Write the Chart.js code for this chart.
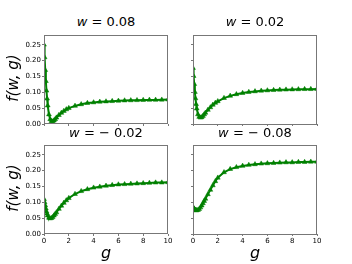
<!DOCTYPE html>
<html>
<head>
<meta charset="utf-8">
<script src="https://cdn.jsdelivr.net/npm/chart.js@4/dist/chart.umd.min.js"></script>
<style>
  body { margin: 0; background: #fff; }
  #wrap { position: relative; width: 352px; height: 264px; overflow: hidden; font-family: "DejaVu Sans", sans-serif; }
  canvas { position: absolute; }
  .title { position: absolute; font-size: 13px; color: #000; white-space: nowrap; transform: translate(-50%, -50%); }
  .ylab { position: absolute; font-size: 15px; font-style: italic; white-space: nowrap; transform: translate(-50%, -50%) rotate(-90deg); }
  .xlab { position: absolute; font-size: 16px; font-style: italic; transform: translate(-50%, -50%); }
</style>
</head>
<body>
<div id="wrap">
  <canvas id="c0" width="164" height="108" style="left:10px;top:30px"></canvas>
  <canvas id="c1" width="164" height="108" style="left:159px;top:30px"></canvas>
  <canvas id="c2" width="164" height="108" style="left:10px;top:140px"></canvas>
  <canvas id="c3" width="164" height="108" style="left:159px;top:140px"></canvas>

  <div class="title" style="left:106px;top:21px"><i>w</i> = 0.08</div>
  <div class="title" style="left:255px;top:21px"><i>w</i> = 0.02</div>
  <div class="title" style="left:106px;top:132px"><i>w</i> = − 0.02</div>
  <div class="title" style="left:255px;top:132px"><i>w</i> = − 0.08</div>

  <div class="ylab" style="left:13px;top:78px">f(w, g)</div>
  <div class="ylab" style="left:13px;top:188px">f(w, g)</div>
  <div class="xlab" style="left:106px;top:252px">g</div>
  <div class="xlab" style="left:255px;top:252px">g</div>
</div>

<script>
// sample points along g
const G_VALUES = [0, 0.05, 0.1, 0.15, 0.2, 0.25, 0.3, 0.4, 0.5, 0.6, 0.7, 0.8, 0.9, 1.0,
  1.2, 1.4, 1.6, 1.8, 2.0, 2.5, 3, 3.5, 4, 4.5, 5, 5.5, 6, 6.5, 7, 7.5, 8, 8.5, 9, 9.5, 10];

// f(w, g) for each w
const F_W_P008 = [0.25, 0.21, 0.17, 0.135, 0.105, 0.08, 0.058, 0.03, 0.015, 0.009, 0.008, 0.011, 0.015, 0.02,
  0.028, 0.035, 0.041, 0.046, 0.05, 0.057, 0.062, 0.066, 0.068, 0.07, 0.071, 0.072, 0.073, 0.074, 0.0745, 0.075, 0.0755, 0.076, 0.076, 0.0765, 0.077];
const F_W_P002 = [0.175, 0.15, 0.125, 0.1, 0.08, 0.062, 0.048, 0.03, 0.022, 0.02, 0.021, 0.025, 0.03, 0.035,
  0.044, 0.052, 0.06, 0.066, 0.071, 0.081, 0.088, 0.093, 0.097, 0.1, 0.102, 0.104, 0.105, 0.106, 0.107, 0.1075, 0.108, 0.1085, 0.109, 0.109, 0.1095];
const F_W_N002 = [0.11, 0.1, 0.09, 0.08, 0.071, 0.064, 0.058, 0.051, 0.049, 0.05, 0.053, 0.058, 0.063, 0.068,
  0.079, 0.089, 0.098, 0.106, 0.113, 0.126, 0.135, 0.141, 0.146, 0.149, 0.152, 0.154, 0.156, 0.157, 0.158, 0.159, 0.16, 0.161, 0.162, 0.162, 0.163];
const F_W_N008 = [0.085, 0.081, 0.078, 0.076, 0.075, 0.074, 0.074, 0.075, 0.078, 0.083, 0.089, 0.096, 0.103, 0.11,
  0.124, 0.138, 0.152, 0.165, 0.176, 0.193, 0.203, 0.209, 0.213, 0.216, 0.218, 0.22, 0.221, 0.222, 0.223, 0.224, 0.224, 0.225, 0.225, 0.226, 0.226];

const X_TICKS = [0, 2, 4, 6, 8, 10];
const Y_TICKS = [0, 0.05, 0.1, 0.15, 0.2, 0.25];

const LINE_COLOR = "#008000";
const SPINE_COLOR = "#777";

// full box around plot area
const framePlugin = {
  id: "frame",
  afterDraw(chart) {
    const a = chart.chartArea;
    const ctx = chart.ctx;
    ctx.save();
    ctx.strokeStyle = SPINE_COLOR;
    ctx.lineWidth = 1;
    ctx.strokeRect(Math.round(a.left) + 0.5, Math.round(a.top) + 0.5,
      Math.round(a.right - a.left) - 1, Math.round(a.bottom - a.top) - 1);
    ctx.restore();
  },
};

function makePanel(id, values, showX, showY) {
  const points = G_VALUES.map((g, i) => ({ x: g, y: values[i] }));
  const tickFont = { family: "DejaVu Sans", size: 7 };
  return new Chart(document.getElementById(id), {
    type: "scatter",
    data: {
      datasets: [{
        data: points,
        showLine: true,
        borderColor: LINE_COLOR,
        backgroundColor: LINE_COLOR,
        borderWidth: 2,
        pointStyle: "triangle",
        pointRadius: 2.8,
        pointBorderWidth: 0.5,
        tension: 0,
      }],
    },
    options: {
      responsive: false,
      animation: false,
      devicePixelRatio: 1,
      layout: { padding: { left: 0, top: 2, right: 6, bottom: 0 } },
      plugins: { legend: { display: false }, tooltip: { enabled: false } },
      scales: {
        x: {
          type: "linear", min: 0, max: 10,
          afterBuildTicks: (s) => { s.ticks = X_TICKS.map((v) => ({ value: v })); },
          afterFit: (s) => { s.height = 14; },
          grid: { display: true, drawOnChartArea: false, drawTicks: true, tickLength: 2, color: SPINE_COLOR },
          border: { display: false },
          ticks: { display: showX, font: tickFont, color: "#000", padding: 1, maxRotation: 0 },
        },
        y: {
          type: "linear", min: 0, max: 0.28,
          afterBuildTicks: (s) => { s.ticks = Y_TICKS.map((v) => ({ value: v })); },
          afterFit: (s) => { s.width = 34; },
          grid: { display: true, drawOnChartArea: false, drawTicks: true, tickLength: 2, color: SPINE_COLOR },
          border: { display: false },
          ticks: { display: showY, font: tickFont, color: "#000", padding: 1,
            callback: (v) => Number(v).toFixed(2) },
        },
      },
    },
    plugins: [framePlugin],
  });
}

makePanel("c0", F_W_P008, false, true);
makePanel("c1", F_W_P002, false, false);
makePanel("c2", F_W_N002, true, true);
makePanel("c3", F_W_N008, true, false);
</script>
</body>
</html>
